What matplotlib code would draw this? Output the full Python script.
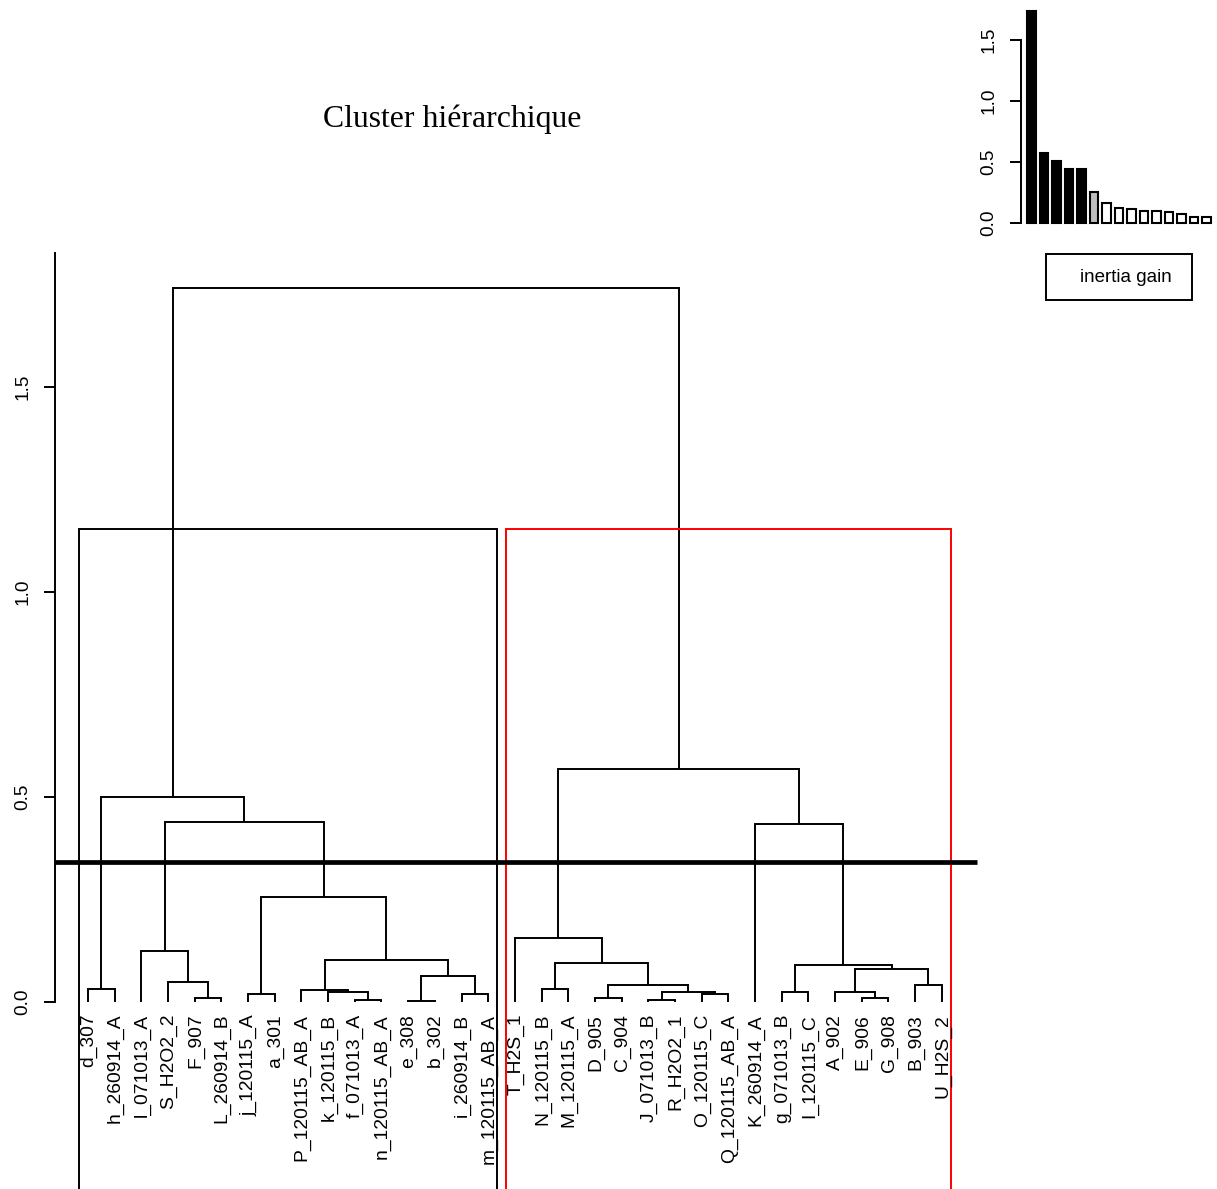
import matplotlib
matplotlib.use("Agg")
import matplotlib.pyplot as plt
from matplotlib.patches import Rectangle

# ---------------- data ----------------
leaf_labels = ["d_307", "h_260914_A", "l_071013_A", "S_H2O2_2", "F_907", "L_260914_B",
               "j_120115_A", "a_301", "P_120115_AB_A", "k_120115_B", "f_071013_A",
               "n_120115_AB_A", "e_308", "b_302", "i_260914_B", "m_120115_AB_A",
               "T_H2S_1", "N_120115_B", "M_120115_A", "D_905", "C_904", "J_071013_B",
               "R_H2O2_1", "O_120115_C", "Q_120115_AB_A", "K_260914_A", "g_071013_B",
               "I_120115_C", "A_902", "E_906", "G_908", "B_903", "U_H2S_2"]

# R-style merge table: negative = leaf (1-based), positive = earlier merge row (1-based)
merge_left = [-13, -11, -22, -5, -20, -30, -7, -15, -24, -10, 3, -27, -29, -9, -1, -18,
              5, -32, -4, 1, 13, 12, 16, 14, -3, -17, 7, -26, 25, 15, 26, 30]
merge_right = [-14, -12, -23, -6, -21, -31, -8, -16, -25, 2, 9, -28, 6, 10, -2, -19,
               11, -33, 4, 8, 18, 21, 17, 20, 19, 23, 24, 22, 27, 29, 28, 31]
merge_height = [0.001, 0.004, 0.004, 0.009, 0.008, 0.008, 0.019, 0.019, 0.018, 0.023,
                0.023, 0.023, 0.023, 0.027, 0.031, 0.031, 0.040, 0.040, 0.048, 0.062,
                0.080, 0.088, 0.093, 0.101, 0.123, 0.154, 0.254, 0.434, 0.437, 0.498,
                0.567, 1.740]

cut_height = 0.341
cluster_sizes = [16, 17]
cluster_colors = ["black", "red"]

inertia_gain = [1.735, 0.569, 0.508, 0.438, 0.438, 0.254, 0.159, 0.123, 0.110,
                0.098, 0.098, 0.085, 0.069, 0.049, 0.049]
bar_colors = ["black"] * 5 + ["#bebebe"] + ["white"] * 9
inset_ticks = [0.0, 0.5, 1.0, 1.5]
main_ticks = [0.0, 0.5, 1.0, 1.5]

title = "Cluster hiérarchique"
legend_text = "inertia gain"

# ---------------- figure ----------------
W, H = 1217, 1189
fig = plt.figure(figsize=(W / 100, H / 100), dpi=100)
plt.rcParams['font.family'] = ['Liberation Sans', 'DejaVu Sans']

LW = 1.4

# main dendrogram axes: pixel x 55..980, pixel y 240..1189
ax = fig.add_axes([55 / W, 0, 925 / W, (H - 240) / H])
sp = 26.68
x0 = 88
ax.set_xlim(1 + (55 - x0) / sp, 1 + (980 - x0) / sp)
zero_px = 1001.5
ppu = 410.0
ax.set_ylim((zero_px - H) / ppu, (zero_px - 240) / ppu)

for s in ["top", "right", "bottom"]:
    ax.spines[s].set_visible(False)
ax.spines["left"].set_bounds(0, (zero_px - 252.7) / ppu)
ax.spines["left"].set_linewidth(LW)
ax.set_xticks([])
ax.set_yticks(main_ticks)
ax.set_yticklabels([f"{t:.1f}" for t in main_ticks], rotation=90, va="center",
                   fontsize=13.7)
ax.tick_params(axis="y", length=7.9, width=LW, pad=9)

# compute node positions
n_leaf = len(leaf_labels)
node_x = {}
node_h = {}
for i in range(n_leaf):
    node_x[-(i + 1)] = i + 1
    node_h[-(i + 1)] = 0.0
for k, (a, b, h) in enumerate(zip(merge_left, merge_right, merge_height), start=1):
    xa, xb = node_x[a], node_x[b]
    ha, hb = node_h[a], node_h[b]
    ax.plot([xa, xa, xb, xb], [ha, h, h, hb], color="black", lw=LW,
            solid_joinstyle="miter", solid_capstyle="butt")
    node_x[k] = (xa + xb) / 2
    node_h[k] = h

for i, lab in enumerate(leaf_labels):
    ax.text(i + 1.03, -0.03, lab, rotation=90, ha="center", va="top", fontsize=13.9,
            clip_on=False)

# cluster rectangles
box_top = (sorted(merge_height)[-1] + sorted(merge_height)[-2]) / 2
start = 0
ybot = ax.get_ylim()[0] - 0.05
for size, col in zip(cluster_sizes, cluster_colors):
    left = start + 0.66
    right = start + size + 0.33
    ax.plot([left, left, right, right], [ybot, box_top, box_top, ybot], color=col,
            lw=LW, clip_on=False, solid_joinstyle="miter")
    start += size

# cut line
ax.plot([ax.get_xlim()[0], 1 + (976.7 - x0) / sp], [cut_height, cut_height],
        color="black", lw=3.4, solid_capstyle="butt", clip_on=False)

# ---------------- inset bar plot ----------------
iax = fig.add_axes([1021 / W, (H - 240) / H, (W - 1021) / W, 240 / H])
ipitch = 12.5
ic = 1031.5
iax.set_xlim(1 + (1021 - ic) / ipitch, 1 + (W - ic) / ipitch)
izero = 222.7
ippu = 122.0
iax.set_ylim((izero - 240) / ippu, izero / ippu)
iax.patch.set_alpha(0)
for s in ["top", "right", "bottom"]:
    iax.spines[s].set_visible(False)
iax.spines["left"].set_bounds(0, 1.5)
iax.spines["left"].set_linewidth(LW)
iax.set_xticks([])
iax.set_yticks(inset_ticks)
iax.set_yticklabels([f"{t:.1f}" for t in inset_ticks], rotation=90, va="center",
                    fontsize=13.7)
iax.tick_params(axis="y", length=7.9, width=LW, pad=9)
iax.bar(range(1, len(inertia_gain) + 1), inertia_gain, width=8.4 / ipitch,
        color=bar_colors, edgecolor="black", linewidth=1.5)

# ---------------- overlay: title + legend ----------------
oax = fig.add_axes([0, 0, 1, 1])
oax.set_xlim(0, W)
oax.set_ylim(H, 0)
oax.axis("off")
oax.patch.set_alpha(0)
oax.text(452, 127, title, ha="center", va="baseline", fontsize=22.9,
         family=["Liberation Serif", "DejaVu Serif"])
oax.add_patch(Rectangle((1046, 253.5), 145.7, 46, fill=False, edgecolor="black",
                        lw=LW))
oax.text(1080, 277, legend_text, ha="left", va="center", fontsize=13.5)

fig.savefig("out.png", dpi=100)
